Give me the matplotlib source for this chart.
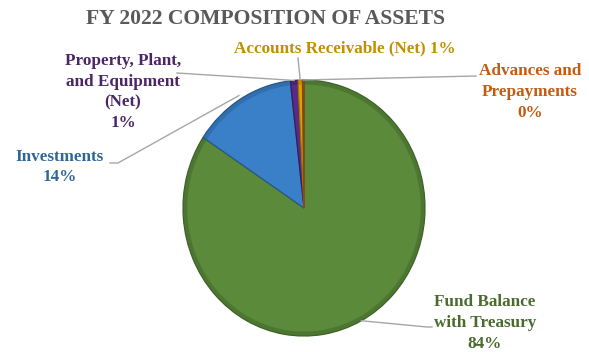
import matplotlib
matplotlib.use("Agg")
import matplotlib.pyplot as plt
import numpy as np

# ---- data ----
categories = ["Fund Balance\nwith Treasury", "Investments",
              "Property, Plant,\nand Equipment\n(Net)", "Accounts Receivable (Net)",
              "Advances and\nPrepayments"]
values = [84.3, 13.9, 1.0, 0.6, 0.2]
pct_labels = ["84%", "14%", "1%", "1%", "0%"]
title = "FY 2022 COMPOSITION OF ASSETS"

slice_colors = ["#5B8A3A", "#3A80C8", "#5B2A86", "#D8A200", "#C4601A"]
edge_colors = ["#3E6228", "#25598F", "#3C1A5C", "#9C7500", "#8A4212"]
text_colors = ["#4A6B2E", "#2F6699", "#4B2566", "#BF9000", "#C55A11"]
leader_color = "#A6A6A6"
FONT = "Liberation Serif"

W, H = 589, 352
fig = plt.figure(figsize=(W / 100, H / 100), dpi=100)

left, right, top, bottom = 183, 425, 80, 336
ax = fig.add_axes([left / W, (H - bottom) / H, (right - left) / W, (bottom - top) / H])
wedges, _ = ax.pie(values, colors=slice_colors, startangle=90, counterclock=False,
                   wedgeprops=dict(linewidth=0.9))
for w, ec in zip(wedges, edge_colors):
    w.set_edgecolor(ec)
# subtle darker bevel ring at the rim
ring, _ = ax.pie(values, colors=edge_colors, startangle=90, counterclock=False,
                 wedgeprops=dict(width=0.035, linewidth=0, alpha=0.45))
ax.set_aspect("auto")
ax.set_xlim(-1, 1)
ax.set_ylim(-1, 1)
ax.axis("off")

def fig_px(x, y):
    return (x / W, 1 - y / H)

def mid_point(w, r=1.0):
    a = np.deg2rad((w.theta1 + w.theta2) / 2)
    return (r * np.cos(a), r * np.sin(a))

label_pos = [(485, 323), (60, 167), (123, 92), (345, 48), (530, 92)]
leader_ends = [[(432, 327), (427, 327)], [(110, 163), (118, 163)], [(177, 73)],
               [(298, 58)], [(476, 76)]]
leader_r = [1.0, 1.03, 1.0, 1.0, 1.0]

for i, w in enumerate(wedges):
    if i == 3:
        txt = categories[i] + " " + pct_labels[i]
    else:
        txt = categories[i] + "\n" + pct_labels[i]
    fig.text(*fig_px(*label_pos[i]), txt, ha="center", va="center", color=text_colors[i],
             fontsize=12.3, fontweight="bold", family=FONT, linespacing=1.38)
    pts = leader_ends[i]
    p = mid_point(w, leader_r[i])
    disp = ax.transData.transform(p)
    start = fig.transFigure.inverted().transform(disp)
    xs = [start[0]] + [fig_px(*q)[0] for q in reversed(pts)]
    ys = [start[1]] + [fig_px(*q)[1] for q in reversed(pts)]
    fig.add_artist(plt.Line2D(xs, ys, transform=fig.transFigure, color=leader_color, lw=1.0))

fig.text(*fig_px(265, 19), title, ha="center", va="center", color="#595959",
         fontsize=15.6, fontweight="bold", family=FONT)

fig.savefig("out.png", dpi=100)
